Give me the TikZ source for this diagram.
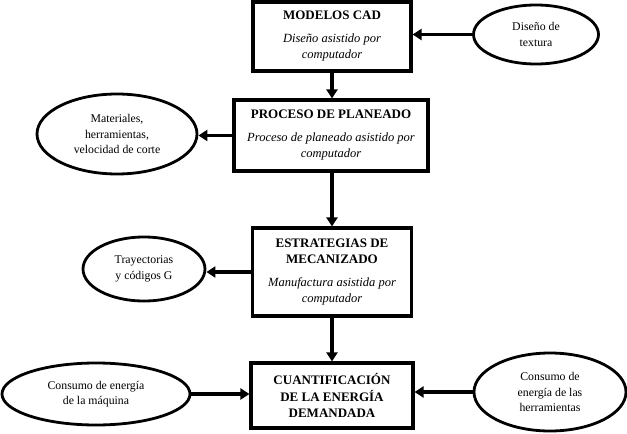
\documentclass[tikz,border=0pt]{standalone}
\usepackage{fontspec}
\setmainfont{Liberation Serif}
\usetikzlibrary{arrows.meta,shapes.geometric}
\newcommand{\subfont}{\itshape\fontsize{12.5}{15.5}\selectfont}
\begin{document}
\begin{tikzpicture}[x=1pt,y=-1pt,
  stepbox/.style={draw,line width=3.2pt,rectangle,inner sep=0pt,align=center,
    font=\fontsize{13}{16.5}\selectfont},
  bubble/.style={draw,line width=2.8pt,ellipse,inner sep=0pt,align=center,
    font=\fontsize{11.8}{15.5}\selectfont},
  conn/.style={line width=3.2pt,-{Triangle[length=9pt,width=11pt]}}]
\useasboundingbox (0,0) rectangle (627,434);
\node[stepbox,minimum width=158pt,minimum height=69pt] (b1) at (332,36.5)
  {\textbf{MODELOS CAD}\\[6pt]\subfont Diseño asistido por\\\subfont computador};
\node[stepbox,minimum width=194pt,minimum height=71pt] (b2) at (331,135.5)
  {\textbf{PROCESO DE PLANEADO}\\[6pt]\subfont Proceso de planeado asistido por\\\subfont computador};
\node[stepbox,minimum width=159pt,minimum height=88pt] (b3) at (332,272)
  {\textbf{ESTRATEGIAS DE}\\\textbf{MECANIZADO}\\[6pt]\subfont Manufactura asistida por\\\subfont computador};
\node[stepbox,minimum width=162pt,minimum height=65pt] (b4) at (332,395.5)
  {\textbf{CUANTIFICACIÓN}\\\textbf{DE LA ENERGÍA}\\\textbf{DEMANDADA}};
\node[bubble,minimum width=125pt,minimum height=59pt] (e1) at (536,34.5) {Diseño de\\textura};
\node[bubble,minimum width=160pt,minimum height=80pt] (e2) at (117,134) {Materiales,\\herramientas,\\velocidad de corte};
\node[bubble,minimum width=122pt,minimum height=64pt] (e3) at (144,269) {Trayectorias\\y códigos G};
\node[bubble,minimum width=188pt,minimum height=62pt] (e4) at (96,394) {Consumo de energía\\de la máquina};
\node[bubble,minimum width=152pt,minimum height=78pt] (e5) at (550,392) {Consumo de\\energía de las\\herramientas};
\draw[conn] (b1.south) -- (b1.south |- b2.north);
\draw[conn] (b2.south -| b3.north) -- (b3.north);
\draw[conn] (b3.south) -- (b4.north);
\draw[conn] (e1.west) -- (e1.west -| b1.east);
\draw[conn] (b2.west) -- (b2.west -| e2.east);
\draw[conn] (b3.west) -- (b3.west -| e3.east);
\draw[conn] (e4.east) -- (e4.east -| b4.west);
\draw[conn] (e5.west) -- (e5.west -| b4.east);
\end{tikzpicture}
\end{document}
